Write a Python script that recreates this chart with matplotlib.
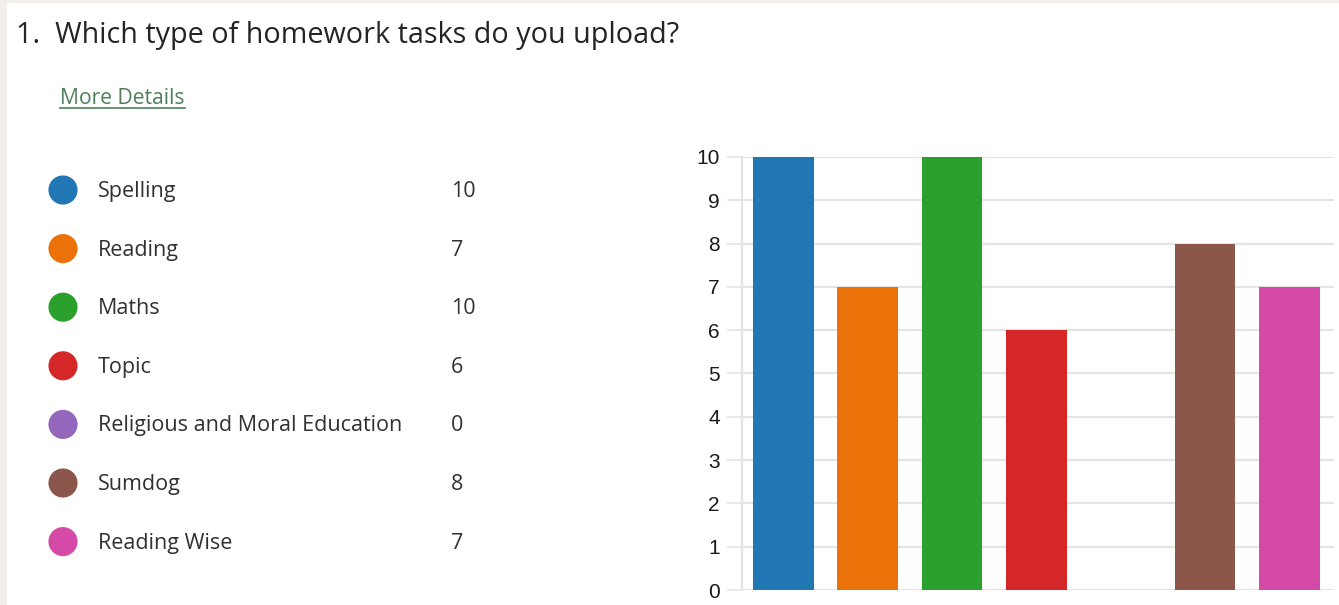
import matplotlib.pyplot as plt
from matplotlib.lines import Line2D

# data
categories = ['Spelling', 'Reading', 'Maths', 'Topic',
              'Religious and Moral Education', 'Sumdog', 'Reading Wise']
counts = [10, 7, 10, 6, 0, 8, 7]
colors = ['#2077b4', '#eb7209', '#2ca02c', '#d62728',
          '#9467bd', '#8c564b', '#d54aa7']
yticks = [0, 1, 2, 3, 4, 5, 6, 7, 8, 9, 10]

title = '1.  Which type of homework tasks do you upload?'
link_text = 'More Details'

W, H = 1339, 605
fig = plt.figure(figsize=(W / 100, H / 100), dpi=100)
fig.patch.set_facecolor('white')

# overlay in pixel coords (y downwards) for the form-like part
ov = fig.add_axes([0, 0, 1, 1])
ov.set_xlim(0, W)
ov.set_ylim(H, 0)
ov.axis('off')

# grey page border strips
ov.axvspan(0, 7, color='#f1eeeb', lw=0)
ov.axhspan(0, 3, color='#f1eeeb', lw=0)

ov.text(16, 43, title, fontsize=20.7, family='Open Sans', color='#252423',
        va='baseline', ha='left')
link = ov.text(60, 104, link_text, fontsize=15.2, family='Open Sans',
               color='#4f7f5c', va='baseline', ha='left')

# legend list
row0, step = 190, 58.6
ys = [row0 + i * step for i in range(len(categories))]
ov.scatter([63] * len(categories), ys, s=440, c=colors, lw=0)
for y, name, n in zip(ys, categories, counts):
    ov.text(98, y + 7, name, fontsize=15.5, family='Open Sans',
            color='#323130', va='baseline', ha='left')
    ov.text(451, y + 7, str(n), fontsize=15.5, family='Open Sans',
            color='#323130', va='baseline', ha='left')

# bar chart
ax = fig.add_axes([742 / W, 15 / H, 592 / W, 433 / H])
x = list(range(len(categories)))
ax.bar(x, counts, width=0.72, color=colors, zorder=3)
ax.set_xlim(-0.49, 6.53)
ax.set_ylim(0, 10)
ax.set_yticks(yticks)
ax.set_xticks([])
ax.yaxis.grid(True, color='#e4e4e4', lw=1.6, zorder=0)
ax.set_axisbelow(True)
for s in ['top', 'right', 'bottom']:
    ax.spines[s].set_visible(False)
ax.spines['left'].set_color('#e4e4e4')
ax.spines['left'].set_linewidth(1.6)
ax.tick_params(axis='y', length=11, width=1.2, color='#e4e4e4', pad=5,
               labelsize=15, labelcolor='#1a1a1a')
for lab in ax.get_yticklabels():
    lab.set_family('Liberation Sans')
ax.patch.set_alpha(0)

# underline for the link
fig.canvas.draw()
bb = link.get_window_extent()
uy = H - 108
fig.add_artist(Line2D([bb.x0 / W, bb.x1 / W], [uy / H, uy / H],
                      color='#4f7f5c', lw=1.2))

fig.savefig('out.png', dpi=100)
